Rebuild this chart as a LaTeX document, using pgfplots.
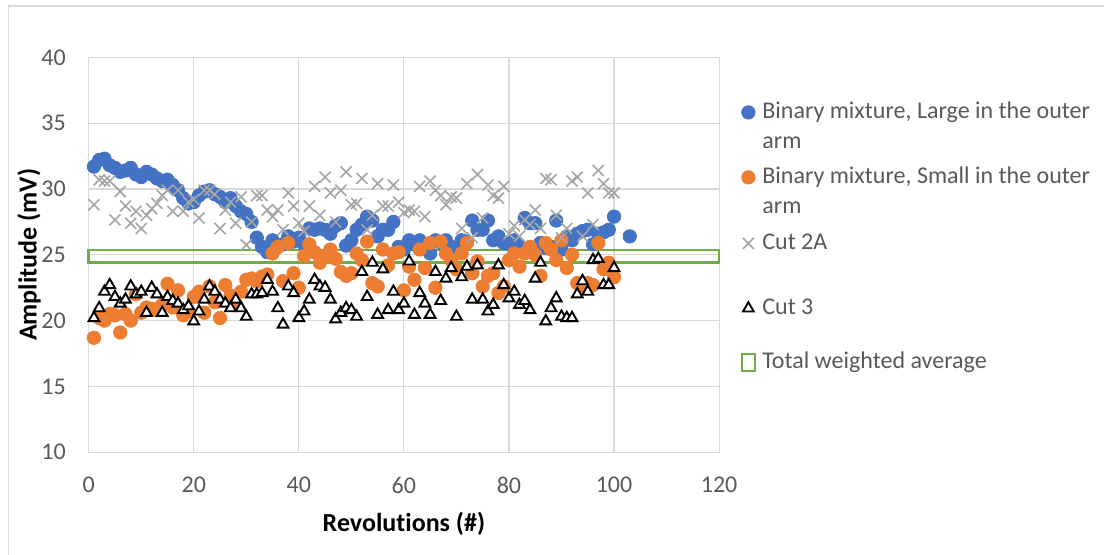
\documentclass[border=0pt]{standalone}
\usepackage{fontspec}
\setmainfont{Carlito}[Ligatures=NoCommon]
\usepackage{pgfplots}
\pgfplotsset{compat=1.18}
\definecolor{cblue}{HTML}{4472C4}
\definecolor{corange}{HTML}{ED7D31}
\definecolor{cgrey}{HTML}{A5A5A5}
\definecolor{cgreen}{HTML}{70AD47}
\definecolor{gridc}{HTML}{D9D9D9}
\definecolor{txt}{HTML}{595959}
\pgfplotsset{
  ptleg/.style={legend image code/.code={\draw[##1] plot coordinates {(0pt,0pt)};}},
  noimg/.style={legend image code/.code={}},
  boxleg/.style={legend image code/.code={\draw[##1,line width=1pt] (-3.1pt,-4.1pt) rectangle (3.1pt,4.1pt);}},
}
\begin{document}
\begin{tikzpicture}
\useasboundingbox (-44.35pt,-51.35pt) rectangle (507.65pt,226.15pt);
\draw[gridc, line width=0.6pt] (-40.2pt,-60pt) -- (-40.2pt,223.15pt) -- (520pt,223.15pt);
\begin{axis}[
  scale only axis, width=315.2pt, height=197.5pt,
  xmin=0, xmax=120, ymin=10, ymax=40,
  xtick={0,20,...,120}, ytick={10,15,...,40},
  grid=major, major grid style={gridc, line width=0.55pt},
  axis line style={gridc, line width=0.55pt},
  major tick length=0pt,
  tick label style={font=\fontsize{12}{14}\selectfont, text=txt, inner sep=0pt},
  xticklabel shift=12.2pt, yticklabel shift=11.3pt,
  /pgf/number format/assume math mode=true,
  xlabel={Revolutions (\#)}, ylabel={Amplitude (mV)},
  every axis x label/.style={at={(axis description cs:0.5,-0.201)}, anchor=base, font=\fontsize{13}{15}\selectfont\bfseries, text=black},
  every axis y label/.style={at={(axis description cs:-0.0825,0.5)}, rotate=90, anchor=base, font=\fontsize{13}{15}\selectfont\bfseries, text=black},
  clip=false,
  legend cell align=left,
  legend style={draw=none, fill=none, inner sep=0pt,
    at={(axis description cs:1.0344,0.8919)}, anchor=north west,
    font=\fontsize{12}{14}\selectfont, text=txt, column sep=3.4pt,
    nodes={inner sep=0pt, text height=8.5pt, text depth=2.5pt}},
]
\addplot[only marks, mark=*, mark size=3.35pt, cblue, ptleg] coordinates {
(1,31.7)(2,32.2)(3,32.3)(4,31.8)(5,31.6)(6,31.3)(7,31.4)(8,31.6)(9,31.1)(10,30.9)
(11,31.3)(12,31.1)(13,30.8)(14,30.6)(15,30.7)(16,30.3)(17,29.9)(18,29.3)(19,28.9)(20,29.0)
(21,29.5)(22,29.8)(23,29.9)(24,29.6)(25,29.4)(26,29.0)(27,29.3)(28,28.7)(29,28.3)(30,28.1)
(31,27.5)(32,26.3)(33,25.6)(34,25.2)(35,26.1)(36,25.6)(37,25.8)(38,26.4)(39,26.0)(40,26.3)
(41,25.8)(42,27.0)(43,26.9)(44,27.0)(45,26.9)(46,26.6)(47,27.2)(48,27.4)(49,25.7)(50,26.1)
(51,26.9)(52,27.3)(53,27.9)(54,27.6)(55,26.4)(56,26.9)(57,26.9)(58,27.5)(59,25.6)(60,25.4)
(61,26.1)(62,25.8)(63,26.1)(64,25.8)(65,25.1)(66,26.1)(67,25.9)(68,26.1)(69,25.6)(70,25.5)
(71,26.1)(72,26.0)(73,27.6)(74,26.9)(75,26.9)(76,27.6)(77,26.1)(78,26.4)(79,25.9)(80,25.8)
(81,26.1)(82,25.7)(83,27.8)(84,27.4)(85,27.4)(86,25.9)(87,25.5)(88,25.6)(89,27.6)(90,25.4)
(91,26.4)(92,26.1)(93,26.6)(94,26.8)(95,26.9)(96,25.8)(97,26.6)(98,26.7)(99,26.9)(100,27.9)
(103,26.4)};
\addlegendentry[minimum height=12pt]{Binary mixture, Large in the outer}
\addlegendimage{noimg}
\addlegendentry[minimum height=18pt]{arm}
\addplot[only marks, mark=*, mark size=3.35pt, corange, ptleg] coordinates {
(1,18.7)(2,20.2)(3,20.0)(4,20.5)(5,20.4)(6,19.1)(7,20.5)(8,20.0)(9,22.0)(10,20.6)
(11,21.0)(12,20.9)(13,20.8)(14,21.2)(15,22.8)(16,21.0)(17,22.3)(18,20.4)(19,20.7)(20,21.8)
(21,22.2)(22,20.6)(23,22.6)(24,21.4)(25,20.2)(26,22.7)(27,21.9)(28,21.2)(29,22.2)(30,23.1)
(31,23.2)(32,23.0)(33,23.35)(34,23.5)(35,25.1)(36,25.6)(37,23.0)(38,25.9)(39,23.6)(40,22.5)
(41,24.9)(42,25.8)(43,25.2)(44,24.4)(45,24.9)(46,25.4)(47,24.7)(48,23.7)(49,23.4)(50,23.6)
(51,25.1)(52,24.6)(53,26.0)(54,22.85)(55,22.6)(56,25.4)(57,24.2)(58,25.1)(59,25.2)(60,22.3)
(61,24.1)(62,23.1)(63,25.4)(64,24.0)(65,25.9)(66,22.5)(67,26.0)(68,25.1)(69,24.6)(70,23.9)
(71,25.1)(72,25.9)(73,23.6)(74,24.5)(75,22.6)(76,23.4)(77,23.6)(78,22.1)(79,22.6)(80,24.6)
(81,25.1)(82,24.1)(83,25.1)(84,25.6)(85,25.0)(86,23.4)(87,25.9)(88,25.4)(89,24.6)(90,26.1)
(91,24.0)(92,25.0)(93,22.85)(94,22.6)(95,22.85)(96,22.7)(97,25.9)(98,23.9)(99,24.4)(100,23.3)};
\addlegendentry[minimum height=17pt]{Binary mixture, Small in the outer}
\addlegendimage{noimg}
\addlegendentry[minimum height=13pt]{arm}
\addplot[only marks, mark=x, mark size=3.9pt, cgrey, line width=0.8pt, ptleg] coordinates {
(1,28.8)(2,30.7)(3,30.6)(4,30.6)(5,27.65)(6,29.8)(7,28.7)(8,27.4)(9,28.3)(10,27.0)
(11,28.0)(12,28.5)(13,28.9)(14,29.5)(15,29.9)(16,28.3)(17,29.9)(18,28.3)(19,29.0)(20,29.2)
(21,27.8)(22,29.9)(23,29.9)(24,29.6)(25,27.0)(26,28.4)(27,29.0)(28,27.4)(29,29.4)(30,25.75)
(31,27.5)(32,29.5)(33,29.5)(34,28.4)(35,27.9)(36,28.4)(37,26.9)(38,29.7)(39,28.7)(40,27.4)
(41,26.8)(42,28.7)(43,30.2)(44,28.0)(45,30.9)(46,29.7)(47,27.5)(48,29.9)(49,31.3)(50,28.8)
(51,28.9)(52,30.8)(53,26.9)(54,28.0)(55,30.4)(56,28.7)(57,28.7)(58,30.3)(59,29.0)(60,28.2)
(61,28.4)(62,28.3)(63,30.2)(64,27.9)(65,30.6)(66,29.9)(67,29.5)(68,28.8)(69,29.4)(70,29.3)
(71,27.0)(72,30.4)(73,26.3)(74,31.1)(75,27.8)(76,30.3)(77,29.5)(78,29.3)(79,30.2)(80,26.6)
(81,27.2)(82,26.4)(83,27.65)(84,27.3)(85,28.4)(86,27.0)(87,30.8)(88,30.7)(89,28.0)(90,26.3)
(91,27.0)(92,30.6)(93,30.9)(94,26.4)(95,29.7)(96,27.3)(97,31.4)(98,30.4)(99,29.7)(100,29.7)};
\addlegendentry[minimum height=23pt]{Cut 2A}
\addplot[only marks, mark=triangle*, mark size=3.1pt, black, line width=0.95pt, mark options={fill=white}, ptleg] coordinates {
(1,20.2)(2,20.95)(3,22.2)(4,22.7)(5,21.8)(6,21.3)(7,21.6)(8,22.6)(9,22.0)(10,22.2)
(11,20.6)(12,22.5)(13,22.0)(14,20.6)(15,21.8)(16,21.5)(17,21.3)(18,20.8)(19,21.1)(20,19.95)
(21,20.7)(22,21.6)(23,22.6)(24,22.2)(25,21.6)(26,21.3)(27,20.95)(28,21.6)(29,20.95)(30,20.3)
(31,22.0)(32,22.0)(33,22.1)(34,23.1)(35,22.2)(36,20.95)(37,19.7)(38,22.6)(39,22.1)(40,20.2)
(41,20.7)(42,21.6)(43,23.1)(44,22.6)(45,22.5)(46,21.6)(47,20.1)(48,20.6)(49,20.95)(50,20.8)
(51,20.3)(52,23.7)(53,21.8)(54,24.4)(55,20.45)(56,23.9)(57,20.8)(58,22.2)(59,20.8)(60,21.3)
(61,24.5)(62,20.45)(63,22.1)(64,21.3)(65,20.45)(66,23.7)(67,21.5)(68,23.2)(69,24.0)(70,20.3)
(71,23.3)(72,24.1)(73,21.6)(74,24.2)(75,21.6)(76,20.7)(77,21.2)(78,24.2)(79,22.7)(80,21.7)
(81,22.2)(82,21.2)(83,21.5)(84,20.8)(85,23.2)(86,24.4)(87,19.95)(88,20.95)(89,21.7)(90,20.3)
(91,20.2)(92,20.2)(93,22.0)(94,23.0)(95,22.2)(96,24.6)(97,24.7)(98,22.7)(99,22.7)(100,24.0)};
\addlegendentry[minimum height=42pt]{Cut 3}
\addplot[cgreen, line width=1.3pt, mark=none, boxleg] coordinates {(0,24.43) (120,24.43) (120,25.35) (0,25.35)} -- cycle;
\addlegendentry[minimum height=12pt]{Total weighted average}
\end{axis}
\end{tikzpicture}
\end{document}
